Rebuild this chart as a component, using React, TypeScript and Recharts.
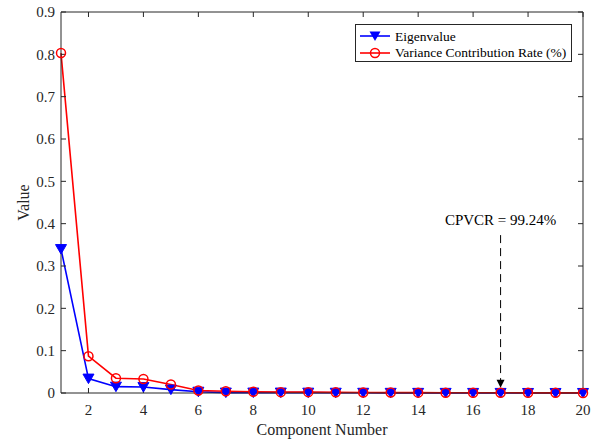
import React from 'react'
import {
  LineChart,
  Line,
  XAxis,
  YAxis,
  Label,
  ReferenceLine,
  ReferenceDot,
} from 'recharts'

const components = [1, 2, 3, 4, 5, 6, 7, 8, 9, 10, 11, 12, 13, 14, 15, 16, 17, 18, 19, 20]
const eigenvalue = [0.34, 0.034, 0.015, 0.014, 0.008, 0.003, 0.001, 0.001, 0.001, 0.0008,
  0.0006, 0.0005, 0.0004, 0.0003, 0.0003, 0.0002, 0.0002, 0.0001, 0.0001, 0.0001]
const varianceRate = [0.803, 0.087, 0.035, 0.033, 0.02, 0.006, 0.004, 0.003, 0.002, 0.002,
  0.0015, 0.0012, 0.001, 0.0008, 0.0007, 0.0006, 0.0005, 0.0004, 0.0003, 0.0002]
const xTicks = [2, 4, 6, 8, 10, 12, 14, 16, 18, 20]
const yTicks = [0, 0.1, 0.2, 0.3, 0.4, 0.5, 0.6, 0.7, 0.8, 0.9]

const cutoffComponent = 17
const cutoffLabel = 'CPVCR = 99.24%'

const data = components.map((c, i) => ({
  c,
  eig: eigenvalue[i],
  vcr: varianceRate[i],
}))

const FONT = '"Liberation Serif", "Times New Roman", Times, serif'
const AXIS = '#262626'
const BLUE = '#0000ff'
const RED = '#ff0000'

const tickStyle = { fill: AXIS, fontSize: 15, fontFamily: FONT }

function TriangleDown(props: any) {
  const { cx, cy, fill } = props
  if (cx == null || cy == null) return null
  return (
    <polygon
      points={`${cx - 5.5},${cy - 4.5} ${cx + 5.5},${cy - 4.5} ${cx},${cy + 5}`}
      fill={fill}
      stroke={fill}
    />
  )
}

function OpenCircle(props: any) {
  const { cx, cy } = props
  if (cx == null || cy == null) return null
  return <circle cx={cx} cy={cy} r={4.5} fill="none" stroke={RED} strokeWidth={1.5} />
}

const noLabel = () => ''

export default function App() {
  return (
    <div
      style={{
        position: 'absolute',
        left: 0,
        top: 0,
        width: 597,
        height: 439,
        background: '#fff',
        fontFamily: FONT,
      }}
    >
      <LineChart
        width={597}
        height={439}
        data={data}
        margin={{ top: 11, right: 13, left: 16, bottom: 0 }}
        style={{ fontFamily: FONT }}
      >
        <XAxis
          dataKey="c"
          type="number"
          domain={[1, 20]}
          ticks={xTicks}
          height={46}
          stroke={AXIS}
          tickSize={-5}
          tickMargin={16}
          tick={tickStyle}
        >
          <Label
            value="Component Number"
            position="insideBottom"
            offset={4}
            style={{ fill: AXIS, fontSize: 16, fontFamily: FONT }}
          />
        </XAxis>
        <XAxis
          xAxisId="top"
          orientation="top"
          dataKey="c"
          type="number"
          domain={[1, 20]}
          ticks={xTicks}
          height={1}
          stroke={AXIS}
          tickSize={-5}
          tickFormatter={noLabel}
        />
        <YAxis
          type="number"
          domain={[0, 0.9]}
          ticks={yTicks}
          width={45}
          stroke={AXIS}
          tickSize={-5}
          tickMargin={11}
          tick={tickStyle}
          tickFormatter={(v: number) => (v === 0 ? '0' : String(v))}
        >
          <Label
            value="Value"
            angle={-90}
            position="insideLeft"
            offset={7}
            style={{ fill: AXIS, fontSize: 16, fontFamily: FONT, textAnchor: 'middle' }}
          />
        </YAxis>
        <YAxis
          yAxisId="right"
          orientation="right"
          type="number"
          domain={[0, 0.9]}
          ticks={yTicks}
          width={1}
          stroke={AXIS}
          tickSize={-5}
          tickFormatter={noLabel}
        />

        {/* dashed pointer to the cutoff component */}
        <ReferenceLine
          segment={[{ x: cutoffComponent, y: 0.373 }, { x: cutoffComponent, y: 0.03 }]}
          stroke="#000"
          strokeDasharray="8 5"
          strokeWidth={1}
        />
        <ReferenceDot
          x={cutoffComponent}
          y={0.022}
          shape={(p: any) => (
            <polygon
              points={`${p.cx - 4},${p.cy - 4} ${p.cx + 4},${p.cy - 4} ${p.cx},${p.cy + 4}`}
              fill="#000"
            />
          )}
        />
        <ReferenceDot
          x={cutoffComponent}
          y={0.396}
          shape={(p: any) => (
            <text
              x={p.cx}
              y={p.cy}
              textAnchor="middle"
              fill="#000"
              fontFamily={FONT}
              fontSize={15}
            >
              {cutoffLabel}
            </text>
          )}
        />

        {/* invisible series so the top/right box axes get drawn */}
        <Line
          xAxisId="top"
          yAxisId="right"
          dataKey="vcr"
          stroke="none"
          dot={false}
          activeDot={false}
          legendType="none"
          isAnimationActive={false}
        />
        <Line
          dataKey="eig"
          stroke={BLUE}
          strokeWidth={1.6}
          fill={BLUE}
          dot={<TriangleDown fill={BLUE} />}
          isAnimationActive={false}
        />
        <Line
          dataKey="vcr"
          stroke={RED}
          strokeWidth={1.6}
          dot={<OpenCircle />}
          isAnimationActive={false}
        />
      </LineChart>

      {/* legend box */}
      <div
        style={{
          position: 'absolute',
          left: 355,
          top: 24,
          width: 215,
          height: 36,
          border: `1px solid ${AXIS}`,
          background: '#fff',
        }}
      >
        <svg width={215} height={36} style={{ position: 'absolute', left: 0, top: 0 }}>
          <line x1={4} y1={11} x2={34} y2={11} stroke={BLUE} strokeWidth={1.6} />
          <polygon points="13.5,6.5 24.5,6.5 19,16" fill={BLUE} />
          <line x1={4} y1={28} x2={34} y2={28} stroke={RED} strokeWidth={1.6} />
          <circle cx={19} cy={28} r={4.5} fill="none" stroke={RED} strokeWidth={1.5} />
          <text x={39} y={16} fontFamily={FONT} fontSize={13.5} fill="#000">Eigenvalue</text>
          <text x={39} y={32} fontFamily={FONT} fontSize={13.5} fill="#000">Variance Contribution Rate (%)</text>
        </svg>
      </div>
    </div>
  )
}
